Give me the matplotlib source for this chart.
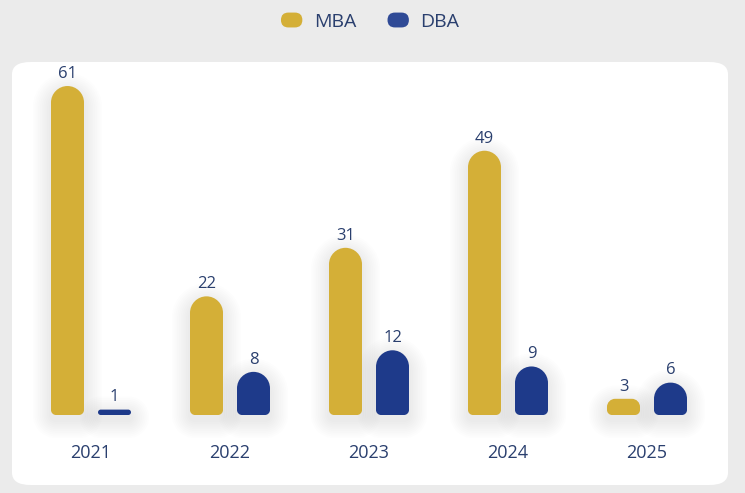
import matplotlib
matplotlib.use("Agg")
import matplotlib.pyplot as plt
from matplotlib.patches import FancyBboxPatch, PathPatch, Patch
from matplotlib.path import Path
from matplotlib.legend_handler import HandlerPatch

years = ["2021", "2022", "2023", "2024", "2025"]
mba = [61, 22, 31, 49, 3]
dba = [1, 8, 12, 9, 6]

gold = "#d4af37"
navy = "#1e3a8a"
txt = "#2a3f6e"
bg = "#ebebeb"

plt.rcParams["font.family"] = ["Open Sans", "DejaVu Sans"]

W, H = 745, 493
fig = plt.figure(figsize=(W / 100, H / 100), dpi=100)
fig.patch.set_facecolor(bg)

# white card
card = FancyBboxPatch((12 / W, 1 - 485 / H), 716 / W, 423 / H,
                      boxstyle="round,pad=0,rounding_size=0.025",
                      transform=fig.transFigure, facecolor="white",
                      edgecolor="none", zorder=-5)
fig.patches.append(card)

# axes placed so that one category = 139 px, one unit = 5.393 px
px_x = 139.0
px_y = 5.393
ymax = 65
ax = fig.add_axes([21.5 / W, 1 - 415 / H, 695 / W, ymax * px_y / H])
ax.set_xlim(-0.5, 4.5)
ax.set_ylim(0, ymax)
ax.axis("off")
ax.set_zorder(2)

K = 0.5523


def bar_path(xc, w, h, rt_px, rb_px):
    # rounded bar in data units, radii given in pixels
    x0, x1 = xc - w / 2, xc + w / 2
    rtx, rty = rt_px / px_x, rt_px / px_y
    rbx, rby = rb_px / px_x, rb_px / px_y
    v = [(x0 + rbx, 0), (x1 - rbx, 0),
         (x1 - rbx + K * rbx, 0), (x1, rby - K * rby), (x1, rby),
         (x1, h - rty),
         (x1, h - rty + K * rty), (x1 - rtx + K * rtx, h), (x1 - rtx, h),
         (x0 + rtx, h),
         (x0 + rtx - K * rtx, h), (x0, h - rty + K * rty), (x0, h - rty),
         (x0, rby),
         (x0, rby - K * rby), (x0 + rbx - K * rbx, 0), (x0 + rbx, 0)]
    c = [Path.MOVETO, Path.LINETO,
         Path.CURVE4, Path.CURVE4, Path.CURVE4,
         Path.LINETO,
         Path.CURVE4, Path.CURVE4, Path.CURVE4,
         Path.LINETO,
         Path.CURVE4, Path.CURVE4, Path.CURVE4,
         Path.LINETO,
         Path.CURVE4, Path.CURVE4, Path.CURVE4]
    return Path(v, c)


bw_px = 33
bw = bw_px / px_x
off = 23.5 / px_x


def draw_bar(xc, val, color):
    hp = val * px_y
    rt = min(bw_px / 2, hp / 2)
    rb = min(5, hp / 2)
    # soft shadow
    for i in range(10):
        g = 2 + i * 1.8
        sp = bar_path(xc, bw + 2 * g / px_x, val + (2 * g) / px_y, rt + g, rb + g)
        sp = Path(sp.vertices + [0, -(g + 5) / px_y], sp.codes)
        ax.add_patch(PathPatch(sp, facecolor="#000000", edgecolor="none",
                               alpha=0.006, zorder=1, clip_on=False))
    ax.add_patch(PathPatch(bar_path(xc, bw, val, rt, rb), facecolor=color,
                           edgecolor="none", zorder=3, clip_on=False))
    ax.annotate(str(val), (xc, val), xytext=(0, 3), textcoords="offset points",
                ha="center", va="bottom", fontsize=12, color=txt, zorder=4)


for i, yr in enumerate(years):
    draw_bar(i - off, mba[i], gold)
    draw_bar(i + off, dba[i], navy)
    ax.annotate(yr, (i, 0), xytext=(0, -27), textcoords="offset points",
                ha="center", va="center", fontsize=13, color=txt)


def make_pill(legend, orig_handle, xdescent, ydescent, width, height, fontsize):
    return FancyBboxPatch((-xdescent, -ydescent), width, height,
                          boxstyle=f"round,pad=0,rounding_size={height / 2}")


handles = [Patch(facecolor=gold, label="MBA"), Patch(facecolor="#2f4a96", label="DBA")]
fig.legend(handles=handles, loc="upper center", bbox_to_anchor=(0.497, 1.01),
           ncol=2, frameon=False, fontsize=14, labelcolor=txt,
           handlelength=1.1, handleheight=0.8, handletextpad=0.6,
           columnspacing=1.6,
           handler_map={Patch: HandlerPatch(patch_func=make_pill)})

fig.savefig("out.png", dpi=100, facecolor=bg)
